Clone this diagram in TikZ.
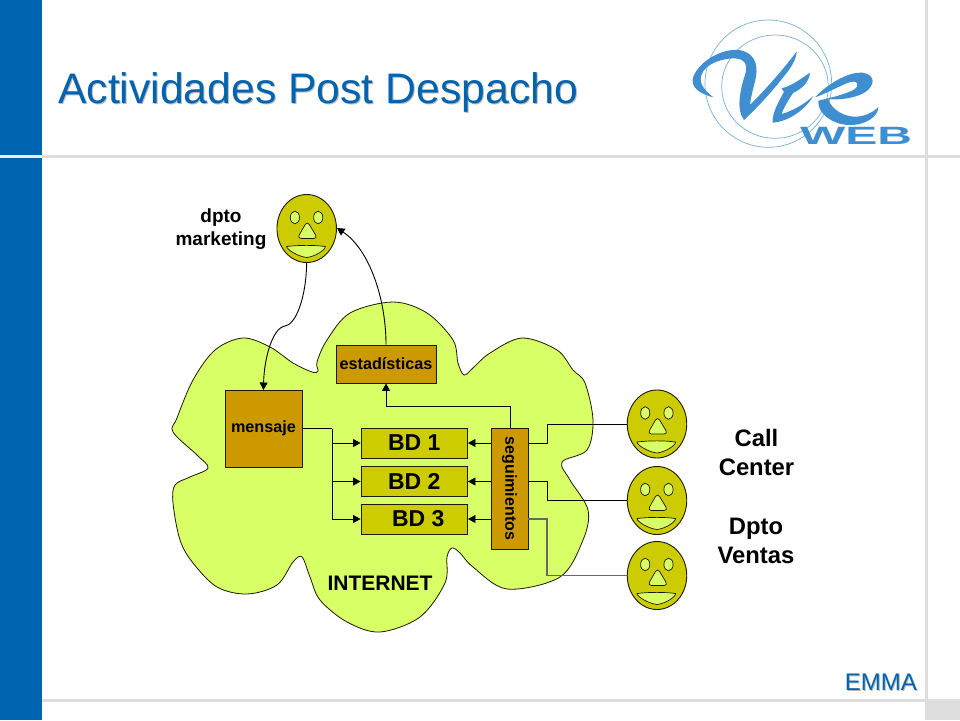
\documentclass[tikz,border=0pt]{standalone}
\usepackage{fontspec}
\setmainfont{Liberation Sans}
\usetikzlibrary{shapes.geometric,arrows.meta}
\definecolor{barblue}{HTML}{0063B0}
\definecolor{rulegray}{HTML}{DDDDDD}
\definecolor{cloudgreen}{HTML}{D9FF66}
\definecolor{brownbox}{HTML}{CC9900}
\definecolor{olivebox}{HTML}{CCCC00}
\definecolor{logoblue}{HTML}{3F8FD0}
\definecolor{ink}{HTML}{1A1A00}
\tikzset{
  brownnode/.style={draw=ink,fill=brownbox,line width=0.9pt,inner sep=0pt,font=\bfseries\fontsize{16.2}{16.2}\selectfont},
  bdnode/.style={draw=ink,fill=olivebox,line width=0.9pt,inner sep=0pt,font=\bfseries\fontsize{23}{23}\selectfont,minimum width=106.5pt,minimum height=30pt},
  facenode/.style={ellipse,draw=ink,fill=olivebox,line width=0.9pt,minimum width=59.5pt,minimum height=68pt,inner sep=0pt},
  feature/.style={draw=ink,fill=cloudgreen,line width=0.7pt},
  conn/.style={draw=black,line width=0.9pt},
  arr/.style={conn,-{Triangle[length=7.5pt,width=8pt]}},
  lbl/.style={font=\bfseries\fontsize{23.8}{29}\selectfont,align=center,inner sep=0pt},
  smalllbl/.style={font=\bfseries\fontsize{19}{23}\selectfont,align=center,inner sep=0pt}
}
\newcommand{\facefeat}[1]{%
  \begin{scope}[shift={(#1)}]
    \draw[feature] (-11.8,-11) ellipse (4.6 and 6.3);
    \draw[feature] (11.5,-11) ellipse (4.6 and 6.3);
    \draw[feature,rounded corners=4pt] (0.5,-7.5) -- (11,10) -- (-9.5,10) -- cycle;
    \draw[feature] (-20,18) .. controls (-8,16.5) and (8,16.5) .. (18.5,18)
       .. controls (19,21) and (9,28) .. (0,29)
       .. controls (-9,28) and (-20,21) .. (-20,18) -- cycle;
  \end{scope}}
\newcommand{\shadowtext}[3]{\makebox[0pt][l]{\raisebox{-#3}{\hspace{#3}\textcolor{black!28}{#1}}}\textcolor{#2}{#1}}
\begin{document}
\begin{tikzpicture}[x=1pt,y=-1pt]
\useasboundingbox (0,0) rectangle (960,720);
\fill[white] (0,0) rectangle (960,720);
% frame
\fill[barblue] (0,0) rectangle (42,720);
\fill[rulegray] (42,155) rectangle (960,158);
\fill[rulegray!50!white] (0,155) rectangle (42,158);
\fill[rulegray] (925,0) rectangle (928,720);
\fill[rulegray] (42,699) rectangle (960,702);
\fill[rulegray] (925,699) rectangle (960,720);
% title
\node[anchor=base west,inner sep=0pt,font=\fontsize{42.7}{42.7}\selectfont] (title) at (58,103.5) {\shadowtext{Actividades Post Despacho}{barblue}{1pt}};
\node[anchor=base east,inner sep=0pt,font=\fontsize{24}{24}\selectfont] (emma) at (917,690) {\shadowtext{EMMA}{barblue}{1pt}};
% logo
\begin{scope}[shift={(680,10)},x=0.3333pt,y=-0.3333pt]
  \draw[logoblue!70!white,line width=0.7pt] (265,221) ellipse (190 and 191);
  \draw[logoblue!70!white,line width=0.7pt] (285,230) ellipse (160 and 155);
  \fill[logoblue] (100,262) .. controls (55,250) and (30,230) .. (40,200)
     .. controls (60,150) and (130,115) .. (175,120)
     .. controls (220,125) and (235,160) .. (228,200)
     .. controls (222,230) and (212,260) .. (210,285)
     .. controls (250,245) and (300,190) .. (350,125)
     .. controls (348,150) and (335,170) .. (315,195)
     .. controls (280,240) and (240,285) .. (192,330)
     .. controls (168,300) and (180,240) .. (195,195)
     .. controls (205,165) and (195,147) .. (165,145)
     .. controls (115,145) and (60,170) .. (62,210)
     .. controls (65,235) and (85,250) .. (100,262) -- cycle;
  \fill[logoblue] (305,235) .. controls (335,228) and (365,205) .. (390,188)
     .. controls (388,215) and (365,238) .. (340,248)
     .. controls (325,270) and (310,295) .. (305,312)
     .. controls (340,302) and (372,283) .. (400,258)
     .. controls (375,300) and (325,335) .. (278,338)
     .. controls (275,310) and (298,272) .. (312,245)
     .. controls (310,243) and (307,240) .. (305,235) -- cycle;
  \fill[logoblue] (405,262) .. controls (450,215) and (510,185) .. (548,188)
     .. controls (590,195) and (585,230) .. (550,250)
     .. controls (520,265) and (480,270) .. (445,268)
     .. controls (455,300) and (495,322) .. (530,320)
     .. controls (560,318) and (580,305) .. (595,292)
     .. controls (595,320) and (555,347) .. (505,345)
     .. controls (455,342) and (412,310) .. (415,272)
     .. controls (445,265) and (490,255) .. (520,240)
     .. controls (545,225) and (530,208) .. (505,218)
     .. controls (470,232) and (440,250) .. (405,262) -- cycle;
\end{scope}
\node[inner sep=0pt,text=logoblue,font=\bfseries\fontsize{25}{25}\selectfont,xscale=1.92] (web) at (856,136) {WEB};
% cloud
\draw[draw=ink,fill=cloudgreen,line width=0.8pt] plot[smooth cycle,tension=0.55] coordinates {
 (173,432) (177,418) (193,380) (215,350) (243,338) (270,347) (293,363) (312,372) (318,371) (317,362) (327,340) (350,313) (393,302) (427,313) (453,340) (458,363)
 (464,375) (473,368) (490,353) (522,338) (557,350) (573,370) (585,383) (593,420) (587,450) (562,462) (570,480) (588,510) (583,540) (560,577) (507,589) (473,567) (460,553) (452,548) (447,557) (445,583) (420,617) (380,632) (347,622) (320,600) (310,577) (302,557) (293,562) (277,585) (247,594) (217,587) (193,563) (180,540) (173,503) (175,485) (190,477) (208,468) (197,455)};
% boxes
\node[brownnode,minimum width=100pt,minimum height=38pt] (est) at (386,364) {estadísticas};
\node[brownnode,minimum width=77pt,minimum height=77pt] (men) at (263.5,428.5) {mensaje};
\node[bdnode] (bd1) at (414.25,443) {BD 1};
\node[bdnode] (bd2) at (414.25,481.5) {BD 2};
\node[bdnode] (bd3) at (414.25,519) {\hspace*{8pt}BD 3};
\node[brownnode,minimum width=37pt,minimum height=121pt] (seg) at (509.5,488.5) {};
\node[rotate=-90,inner sep=0pt,font=\bfseries\fontsize{16}{16}\selectfont] (segl) at (seg.center) {seguimientos};
% faces
\node[facenode] (f0) at (306.7,228.5) {};
\node[facenode] (f1) at (657,424) {};
\node[facenode] (f2) at (657,500.5) {};
\node[facenode] (f3) at (657,575.5) {};
\facefeat{f0}\facefeat{f1}\facefeat{f2}\facefeat{f3}
% connectors
\coordinate (mj) at (332,428.5);
\draw[conn] (men.east) -- (mj);
\draw[arr] (mj) |- (bd1.west);
\draw[arr] (mj) |- (bd2.west);
\draw[arr] (mj) |- (bd3.west);
\draw[arr] (seg.west |- bd1) -- (bd1.east);
\draw[arr] (seg.west |- bd2) -- (bd2.east);
\draw[arr] (seg.west |- bd3) -- (bd3.east);
\coordinate (j1) at (547,424);
\coordinate (j2) at (547,500.5);
\coordinate (j3) at (547,575.5);
\draw[conn] (f1.west) -- (j1) |- (seg.east |- bd1);
\draw[conn] (f2.west) -- (j2) |- (seg.east |- bd2);
\draw[conn,draw=black!60,line width=1.2pt] (f3.west) -- (j3) |- (seg.east |- bd3);
\coordinate (tu) at (510,406);
\draw[arr] (seg.north -| tu) -- (tu) -| (est.south);
\draw[arr] (f0.south) .. controls (306,300) and (295,325) .. (285,326) .. controls (272,328) and (264,360) .. (263.5,390);
\draw[arr] (est.north) .. controls (386,300) and (370,250) .. (337,228);
% labels
\node[smalllbl] (dm) at (221,229) {dpto\\marketing};
\node[lbl] (cc) at (756.5,452.5) {Call\\Center};
\node[lbl] (dv) at (756,540.5) {Dpto\\Ventas};
\node[inner sep=0pt,font=\bfseries\fontsize{21}{21}\selectfont] (inet) at (380,583) {INTERNET};
\end{tikzpicture}
\end{document}
